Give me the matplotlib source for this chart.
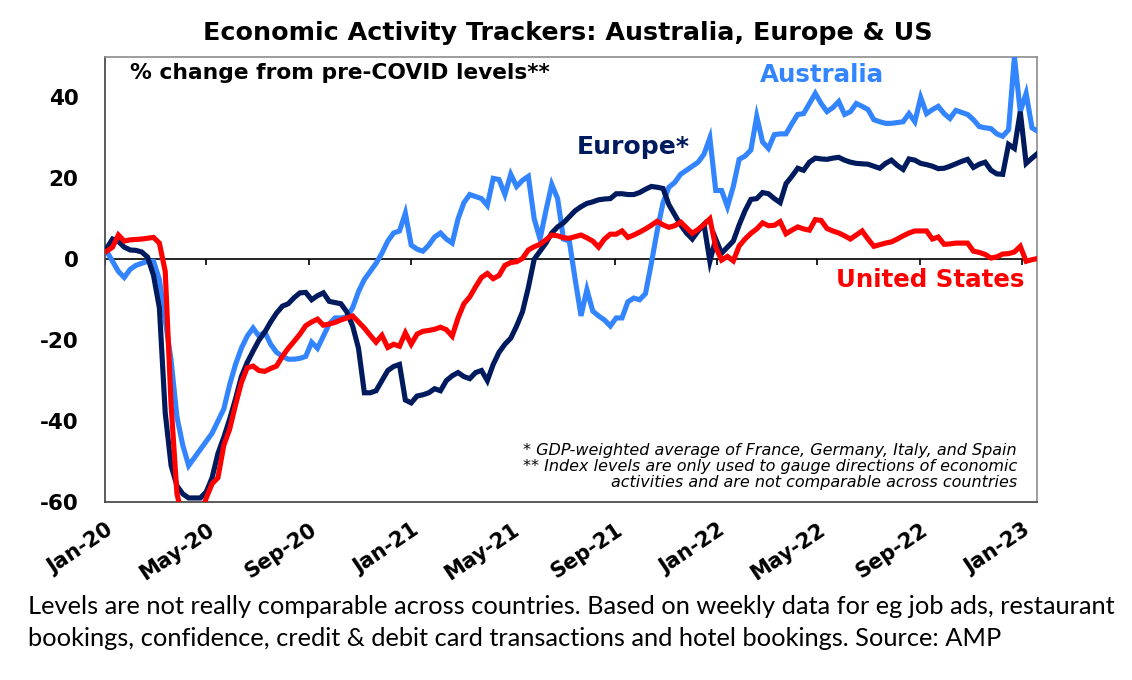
import matplotlib
matplotlib.use("Agg")
import matplotlib.pyplot as plt
import matplotlib.transforms as mtransforms
import numpy as np
import pandas as pd

# ---------------- data (weekly) ----------------
start_date = "2020-01-03"
australia = [2, -0.5, -3, -4.5, -2.5, -1.5, -1, -0.5, -0.5, -5,
             -15, -25, -39, -46, -51, -49, -47, -45, -43, -40,
             -37, -31, -26, -22, -19, -17, -19, -18, -21, -23,
             -24, -24.7, -24.7, -24.5, -24, -20.5, -22, -19, -16, -14.5,
             -14.5, -14.2, -12, -8, -5, -3, -1, 1.5, 4.5, 6.5,
             7, 11.4, 3.5, 2.5, 2, 3.5, 5.5, 6.5, 5, 4,
             10, 14, 16, 15.5, 15, 13.3, 20, 19.7, 16, 21,
             18, 19.5, 20.5, 10, 5, 12, 18.5, 15, 5, 4.5,
             -5, -14, -7.5, -12.8, -14, -15, -16.5, -14.5, -14.5, -10.5,
             -9.6, -10, -8.5, -1, 7, 14, 17.8, 19, 21, 22,
             23, 24, 26, 30, 17, 17, 13, 18, 24.7, 25.5,
             27, 35.3, 29, 27.4, 30.8, 31, 31, 33.5, 35.8, 36,
             38.5, 41, 38.5, 36.5, 37.5, 39, 35.8, 36.5, 38.5, 37.8,
             37, 34.5, 34, 33.6, 33.6, 33.8, 34, 36, 34, 40,
             36, 37, 37.8, 36, 34.8, 36.8, 36.3, 35.8, 34.5, 32.8,
             32.5, 32.3, 31, 30.4, 32, 50, 36.5, 41, 32.5, 31.6]
europe = [2.7, 5, 4.4, 3, 2.3, 2.2, 1.8, 0.5, -4, -12,
          -38, -51, -56, -58, -59, -59, -59, -57.5, -54, -48,
          -44, -39.5, -34.5, -29, -25.5, -22.7, -20, -18, -15.5, -13.3,
          -11.6, -11, -9.5, -8.3, -8.2, -10, -9, -8.3, -10.4, -10.7,
          -11, -13, -16.5, -22, -33, -33, -32.5, -30, -27.5, -26.5,
          -26, -34.8, -35.5, -33.8, -33.5, -33, -32, -32.5, -30, -28.8,
          -28, -29, -29.5, -28, -27.5, -30, -26, -23, -21, -19.5,
          -16.5, -13, -7, 0, 2, 4, 6.5, 8, 9, 10.5,
          12, 13, 13.8, 14.2, 14.7, 14.9, 15, 16.2, 16.2, 16,
          16, 16.5, 17.3, 18, 17.8, 17.5, 13.5, 11, 8.5, 6.5,
          5, 7, 8.6, -0.5, 5, 1.5, 3, 4.5, 8.5, 12,
          14.8, 15, 16.5, 16.2, 15, 14, 18.7, 20.5, 22.5, 22,
          24, 25, 24.8, 24.7, 25, 25.2, 24.5, 24, 23.7, 23.6,
          23.5, 23, 22.5, 23.7, 24.5, 23.2, 22.2, 24.8, 24.5, 23.7,
          23.4, 23, 22.4, 22.5, 23, 23.6, 24.2, 24.7, 22.7, 23.5,
          24, 22, 21.1, 21, 28.4, 27.4, 36.5, 23.7, 25, 26.2]
united_states = [2, 3, 6, 4.5, 4.8, 4.9, 5, 5.2, 5.4, 4,
                 -3, -36, -58, -64, -65, -65, -64, -59, -55.5, -54,
                 -46, -42, -36, -30.5, -26.8, -26.4, -27.5, -27.7, -27, -26.4,
                 -24, -22, -20.3, -18.5, -16.4, -15.5, -14.8, -16.3, -16, -15.6,
                 -15, -14.5, -14, -15.5, -17, -18.8, -20.5, -18.8, -21.8, -21,
                 -21.5, -18.2, -21, -18.5, -17.8, -17.6, -17.3, -16.8, -17.4, -19,
                 -14.5, -11, -9.3, -6.8, -4.5, -3.5, -4.8, -4, -1.5, -0.8,
                 -0.6, 0.2, 2.3, 3.1, 3.7, 4.8, 6, 5.8, 5.3, 5.2,
                 5.6, 6, 5.3, 4.5, 3, 5, 6.2, 6.2, 7, 5.4,
                 6, 6.7, 7.5, 8.4, 9.4, 8.5, 7.9, 8.3, 9.2, 7.8,
                 6.4, 7.4, 8.6, 10, 3, -0.2, 0.7, -0.4, 3.3, 5,
                 6.4, 7.5, 9, 8.3, 8.4, 9.3, 6.3, 7.2, 8, 7.5,
                 7.2, 9.8, 9.6, 7.6, 7, 6.5, 5.8, 5, 6, 7,
                 5, 3.2, 3.6, 4, 4.3, 5, 5.8, 6.5, 7, 7,
                 7, 5, 5.5, 3.7, 3.8, 4, 4, 4, 2, 1.7,
                 1.2, 0.3, 0.6, 1.3, 1.4, 1.8, 3.2, -0.5, -0.1, 0.2]
tick_dates = ["2020-01-01", "2020-05-01", "2020-09-01", "2021-01-01", "2021-05-01",
              "2021-09-01", "2022-01-01", "2022-05-01", "2022-09-01", "2023-01-01"]
tick_labels = ["Jan-20", "May-20", "Sep-20", "Jan-21", "May-21",
               "Sep-21", "Jan-22", "May-22", "Sep-22", "Jan-23"]
y_ticks = [-60, -40, -20, 0, 20, 40]

dates = pd.date_range(start_date, periods=len(australia), freq="7D")
ticks = pd.to_datetime(tick_dates)

# ---------------- figure ----------------
W, H = 1132, 680
fig = plt.figure(figsize=(W / 100, H / 100), dpi=100)
ax_l, ax_r, ax_t, ax_b = 105, 1037, 57, 502
ax = fig.add_axes([ax_l / W, 1 - ax_b / H, (ax_r - ax_l) / W, (ax_b - ax_t) / H])

c_aus = "#3385FF"
c_eur = "#001A5E"
c_us = "#FF0000"
lw = 3.7

ax.axhline(0, color="black", lw=1.2, zorder=1)
ax.vlines(ticks, -1.4, 0, color="black", lw=1.2, zorder=1)
ax.plot(dates, australia, color=c_aus, lw=lw, zorder=3, solid_joinstyle="miter")
ax.plot(dates, europe, color=c_eur, lw=lw, zorder=4, solid_joinstyle="miter")
ax.plot(dates, united_states, color=c_us, lw=lw, zorder=5, solid_joinstyle="miter")

ax.set_ylim(-60, 50)
ax.set_xlim(pd.Timestamp("2020-01-01"), pd.Timestamp("2023-01-19"))
ax.set_yticks(y_ticks)
ax.set_yticklabels([str(v) for v in y_ticks], fontsize=15.5, fontweight="bold",
                   family="DejaVu Sans")
ax.tick_params(axis="y", length=0, pad=19)
ax.set_xticks(ticks)
ax.set_xticklabels(tick_labels, rotation=34, ha="right", va="center",
                   rotation_mode="anchor", fontsize=15, fontweight="bold",
                   family="DejaVu Sans")
ax.tick_params(axis="x", length=0, pad=19)
shift = mtransforms.ScaledTranslation(6 / 100, 0, fig.dpi_scale_trans)
for lab in ax.get_xticklabels():
    lab.set_transform(lab.get_transform() + shift)

for s in ["top", "right"]:
    ax.spines[s].set_color("#8c8c8c")
for s in ["left", "bottom"]:
    ax.spines[s].set_color("#404040")
for s in ax.spines.values():
    s.set_linewidth(1.2)

renderer = fig.canvas.get_renderer()


def fit_text(px, py, s, target_w, ha="left", **kw):
    t = fig.text(px / W, 1 - py / H, s, ha=ha, va="center", **kw)
    fs = t.get_fontsize()
    w = t.get_window_extent(renderer).width
    t.set_fontsize(fs * target_w / w)
    return t


fit_text(568, 33, "Economic Activity Trackers: Australia, Europe & US", 730, ha="center",
         fontsize=14, fontweight="bold", family="DejaVu Sans")
fit_text(130, 73, "% change from pre-COVID levels**", 418,
         fontsize=13, fontweight="bold", family="DejaVu Sans")
fit_text(760, 75, "Australia", 125, fontsize=16, fontweight="bold",
         family="DejaVu Sans", color=c_aus)
fit_text(577, 147, "Europe*", 113, fontsize=16, fontweight="bold",
         family="DejaVu Sans", color=c_eur)
fit_text(836, 280, "United States", 189, fontsize=16, fontweight="bold",
         family="DejaVu Sans", color=c_us)

foot_lines = ["* GDP-weighted average of France, Germany, Italy, and Spain",
              "** Index levels are only used to gauge directions of economic",
              "activities and are not comparable across countries"]
for line, py in zip(foot_lines, [450, 466, 482]):
    fig.text(1017 / W, 1 - py / H, line, ha="right", va="center", fontsize=11.5,
             style="italic", family="DejaVu Sans", color="black")

c1 = fit_text(28, 607, "Levels are not really comparable across countries. Based on weekly "
              "data for eg job ads, restaurant", 1082, fontsize=17, family="Lato",
              color="black")
fig.text(28 / W, 1 - 638 / H,
         "bookings, confidence, credit & debit card transactions and hotel bookings. "
         "Source: AMP", ha="left", va="center", fontsize=c1.get_fontsize(),
         family="Lato", color="black")

fig.savefig("out.png", dpi=100)
